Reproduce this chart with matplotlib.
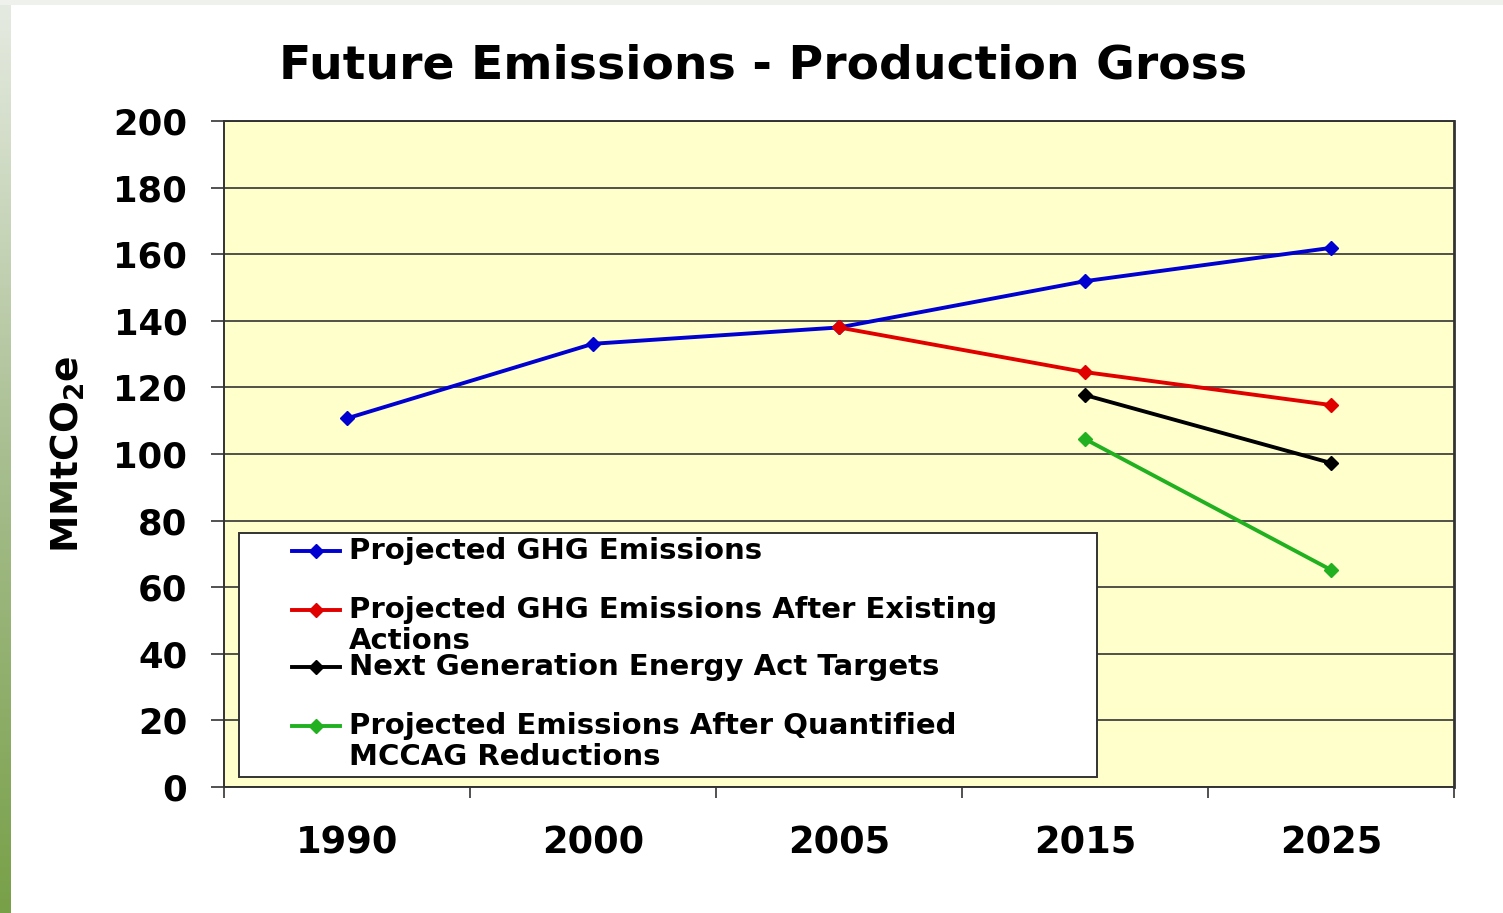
import numpy as np
import matplotlib
matplotlib.use("Agg")
import matplotlib.pyplot as plt
from matplotlib.patches import Rectangle
from matplotlib.colors import LinearSegmentedColormap

# ─── Data ────────────────────────────────────────────────────────────────────

years = ["1990", "2000", "2005", "2015", "2025"]

ghg_idx = [0, 1, 2, 3, 4]
ghg_vals = [110.7, 133.1, 138.0, 151.9, 161.9]

existing_idx = [2, 3, 4]
existing_vals = [138.0, 124.6, 114.7]

nextgen_idx = [3, 4]
nextgen_vals = [117.7, 97.3]

mccag_idx = [3, 4]
mccag_vals = [104.5, 65.2]

names = [
    "Projected GHG Emissions",
    "Projected GHG Emissions After Existing\nActions",
    "Next Generation Energy Act Targets",
    "Projected Emissions After Quantified\nMCCAG Reductions",
]
colors = ["#0000d0", "#e00000", "#000000", "#20b020"]

# ─── Figure ──────────────────────────────────────────────────────────────────

W, H = 1503, 913
fig = plt.figure(figsize=(W / 100, H / 100), dpi=100, facecolor="white")

# slide decoration: grey top strip, green gradient strip on the left
fig.patches.append(Rectangle((0, 1 - 5 / H), 1, 5 / H, transform=fig.transFigure,
                             facecolor="#eff1ec", edgecolor="none", zorder=0))
strip = fig.add_axes([0, 0, 11 / W, 1])
grad = np.linspace(0, 1, 256).reshape(-1, 1)
strip.imshow(grad, aspect="auto", extent=(0, 1, 0, 1), origin="lower",
             cmap=LinearSegmentedColormap.from_list("g", ["#78a048", "#a8be90", "#e6ebe2"]))
strip.set_axis_off()

# plot area in pixels
L, R, T, B = 224, 1454, 121, 787
ax = fig.add_axes([L / W, (H - B) / H, (R - L) / W, (B - T) / H])
ax.set_facecolor("#ffffcc")

series = [(ghg_idx, ghg_vals), (existing_idx, existing_vals),
          (nextgen_idx, nextgen_vals), (mccag_idx, mccag_vals)]
for (xi, yv), c, n in zip(series, colors, names):
    ax.plot(xi, yv, color=c, lw=2.8, marker="D", ms=7.5, mec=c, mfc=c,
            label=n, zorder=3, clip_on=False)

ax.set_xlim(-0.5, 4.5)
ax.set_ylim(0, 200)
ax.set_yticks(np.arange(0, 201, 20))
ax.grid(True, axis="y", color="#333333", lw=1.2, zorder=1)
ax.set_axisbelow(True)

ax.set_xticks(np.arange(-0.5, 5, 1))
ax.set_xticklabels([])
ax.set_xticks(range(5), minor=True)
ax.set_xticklabels(years, minor=True)
ax.tick_params(axis="x", which="major", direction="out", length=8, width=1.2, color="#333333")
ax.tick_params(axis="x", which="minor", length=0, pad=27, labelsize=26.5)
ax.tick_params(axis="y", direction="out", length=9.4, width=1.2, color="#333333",
               labelsize=25.5, pad=17)
for lab in ax.get_xticklabels(minor=True) + ax.get_yticklabels():
    lab.set_fontweight("bold")

for s in ax.spines.values():
    s.set_color("#333333")
    s.set_linewidth(1.4)
ax.spines["right"].set_linewidth(2.0)

ax.set_ylabel("MMtCO$_\\mathbf{2}$e", fontsize=27, fontweight="bold", labelpad=19)

fig.text(763 / W, 1 - 66 / H, "Future Emissions - Production Gross",
         ha="center", va="center", fontsize=34, fontweight="bold")

# ─── Legend (drawn by hand to keep Excel-like first-line alignment) ─────────

def px(x, y):
    return (x - L) / (R - L), (B - y) / (B - T)

x0, y0 = px(239, 777)
x1, y1 = px(1097, 533)
ax.add_patch(Rectangle((x0, y0), x1 - x0, y1 - y0, transform=ax.transAxes,
                       facecolor="white", edgecolor="#333333", lw=1.4, zorder=4))
entry_y = [551, 610, 667, 726]
for n, c, ey in zip(names, colors, entry_y):
    hx0, hy = px(292, ey)
    hx1, _ = px(340, ey)
    hm, _ = px(316, ey)
    ax.plot([hx0, hx1], [hy, hy], color=c, lw=2.8, transform=ax.transAxes, zorder=5)
    ax.plot([hm], [hy], color=c, marker="D", ms=7.5, transform=ax.transAxes, zorder=5)
    for k, line in enumerate(n.split("\n")):
        tx, ty = px(349, ey + 31 * k)
        ax.text(tx, ty, line, transform=ax.transAxes, ha="left", va="center",
                fontsize=21, fontweight="bold", zorder=6)

fig.savefig("out.png", dpi=100, facecolor="white")
